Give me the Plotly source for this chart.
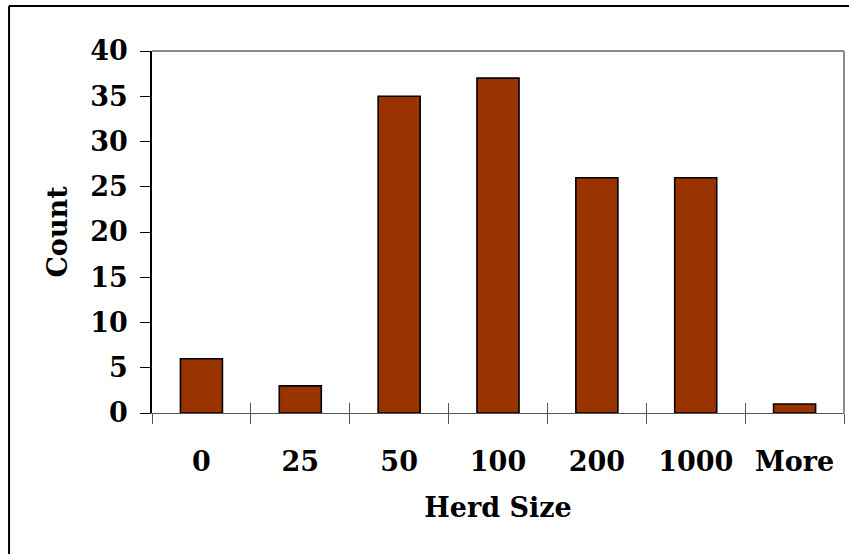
import plotly.graph_objects as go

# Herd size histogram data
bins = ["0", "25", "50", "100", "200", "1000", "More"]
counts = [6, 3, 35, 37, 26, 26, 1]
y_ticks = [0, 5, 10, 15, 20, 25, 30, 35, 40]

FONT = dict(family="DejaVu Serif", size=27, color="black", weight="bold")

fig = go.Figure()
fig.add_trace(go.Bar(
    x=bins, y=counts,
    marker=dict(color="#993300", line=dict(color="black", width=1.6)),
    hoverinfo="x+y",
))

fig.update_layout(
    width=849, height=554,
    margin=dict(l=152, r=5, t=51, b=141),
    paper_bgcolor="white", plot_bgcolor="white",
    bargap=0.575,
    showlegend=False,
    font=FONT,
    xaxis=dict(
        type="category", categoryarray=bins, range=[-0.5, 6.5],
        tickson="boundaries", ticks="outside", ticklen=10, tickwidth=1.2,
        tickcolor="#555", showline=True, linecolor="#555", linewidth=1.2,
        showgrid=False, zeroline=False, ticklabelstandoff=24,
        title=dict(text="Herd Size", font=FONT, standoff=22),
    ),
    xaxis2=dict(
        overlaying="x", range=[-0.5, 6.5],
        tickvals=[i - 0.5 for i in range(len(bins) + 1)],
        ticks="inside", ticklen=10, tickwidth=1.2, tickcolor="#555",
        showticklabels=False, showgrid=False, zeroline=False, showline=False,
    ),
    yaxis=dict(
        range=[0, 40], tickvals=y_ticks, ticks="outside", ticklen=10,
        tickwidth=1.2, tickcolor="black", showline=True, linecolor="black",
        linewidth=1.5, showgrid=False, zeroline=False, ticklabelstandoff=7,
        title=dict(text="Count", font=FONT, standoff=15),
    ),
    shapes=[
        # plot area frame (top and right edges in gray)
        dict(type="line", xref="x domain", yref="y domain", x0=0, x1=1, y0=1, y1=1,
             line=dict(color="#8c8c8c", width=2), layer="below"),
        dict(type="line", xref="x domain", yref="y domain", x0=1, x1=1, y0=0, y1=1,
             line=dict(color="#8c8c8c", width=2), layer="below"),
        # chart frame (left and top edges)
        dict(type="line", xref="paper", yref="paper", x0=-0.2066, x1=1.1, y0=1.1243, y1=1.1243,
             line=dict(color="black", width=2)),
        dict(type="line", xref="paper", yref="paper", x0=-0.2066, x1=-0.2066, y0=-0.5, y1=1.1243,
             line=dict(color="black", width=2)),
    ],
)

# invisible trace that anchors the secondary tick axis
fig.add_trace(go.Scatter(x=[None], y=[None], xaxis="x2", yaxis="y", showlegend=False, hoverinfo="skip"))

fig.write_html("out.html")
